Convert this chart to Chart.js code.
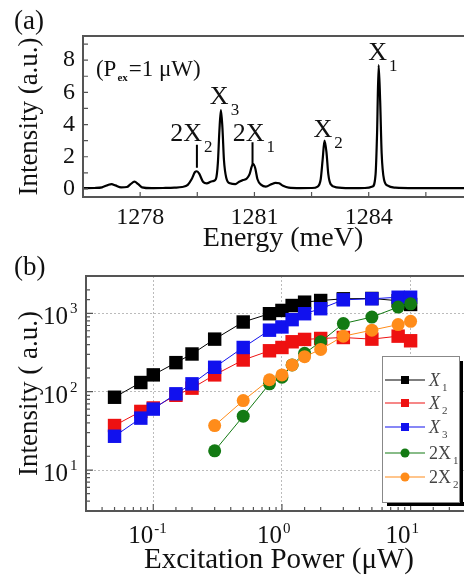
<!DOCTYPE html>
<html>
<head>
<meta charset="utf-8">
<script src="https://cdn.jsdelivr.net/npm/chart.js@4.4.1/dist/chart.umd.min.js"></script>
<style>
html, body { margin: 0; padding: 0; background: #fff; overflow: hidden; width: 464px; height: 578px; }
#wrapA { position: absolute; left: 0; top: 0; width: 490px; height: 255px; }
#wrapB { position: absolute; left: 0; top: 255px; width: 490px; height: 323px; }
</style>
</head>
<body>
<div id="wrapA"><canvas id="chartA"></canvas></div>
<div id="wrapB"><canvas id="chartB"></canvas></div>
<script>
// (a) PL spectrum at Pex = 1 uW
const energy = [1276.5, 1276.8, 1277.0, 1277.15, 1277.25, 1277.35, 1277.5, 1277.65, 1277.75, 1277.85, 1277.95, 1278.05,
  1278.3, 1278.6, 1278.9, 1279.1, 1279.25, 1279.35, 1279.44, 1279.49, 1279.55, 1279.65, 1279.75, 1279.85, 1279.93,
  1279.99, 1280.04, 1280.08, 1280.12, 1280.16, 1280.2, 1280.26, 1280.36, 1280.5, 1280.6, 1280.7, 1280.8, 1280.87,
  1280.93, 1280.97, 1281.02, 1281.08, 1281.18, 1281.3, 1281.45, 1281.55, 1281.65, 1281.75, 1281.9, 1282.2, 1282.5,
  1282.66, 1282.74, 1282.79, 1282.84, 1282.89, 1282.94, 1283.0, 1283.15, 1283.5, 1283.9, 1284.1, 1284.18, 1284.22,
  1284.26, 1284.3, 1284.34, 1284.4, 1284.5, 1284.7, 1285.2, 1285.8, 1286.5, 1287.0];
const intensity = [0.05, 0.06, 0.1, 0.24, 0.3, 0.22, 0.1, 0.12, 0.3, 0.45, 0.3, 0.1,
  0.05, 0.06, 0.08, 0.12, 0.25, 0.6, 1.05, 1.1, 0.95, 0.45, 0.35, 0.45, 0.5,
  0.62, 1.6, 3.6, 4.9, 3.8, 1.8, 0.7, 0.35, 0.3, 0.45, 0.55, 0.65, 0.9,
  1.4, 1.55, 1.3, 0.6, 0.25, 0.15, 0.3, 0.38, 0.35, 0.2, 0.08, 0.05, 0.06,
  0.15, 0.6, 1.8, 3.0, 2.3, 0.9, 0.3, 0.1, 0.05, 0.06, 0.15, 0.9, 3.5,
  7.7, 5.5, 2.2, 0.6, 0.2, 0.08, 0.05, 0.05, 0.05, 0.04];
const yTicksA = [0, 2, 4, 6, 8];

// peak labels (data coordinates: left of main text, baseline)
const peakLabels = [
  { main: 'X', sub: '1', x: 1283.99, y: 8.0 },
  { main: 'X', sub: '3', x: 1279.83, y: 5.3 },
  { main: '2X', sub: '2', x: 1278.79, y: 3.0 },
  { main: '2X', sub: '1', x: 1280.43, y: 3.0 },
  { main: 'X', sub: '2', x: 1282.55, y: 3.2 }
];
const markerLines = [
  { x: 1279.49, y0: 1.31, y1: 2.75 },
  { x: 1280.95, y0: 1.44, y1: 2.9 }
];

// (b) integrated intensity vs excitation power
const power = [0.05, 0.08, 0.1, 0.15, 0.2, 0.3, 0.5, 0.8, 1, 1.2, 1.5, 2, 3, 5, 8, 10];
const powerXX = [0.3, 0.5, 0.8, 1, 1.2, 1.5, 2, 3, 5, 8, 10];
const intX1 = [85, 131, 164, 235, 303, 469, 776, 990, 1090, 1260, 1390, 1460, 1535, 1550, 1450, 1300];
const intX2 = [37, 56, 62, 90, 111, 164, 254, 333, 367, 434, 465, 478, 492, 469, 512, 447];
const intX3 = [27, 46, 60, 94, 126, 205, 367, 610, 671, 832, 990, 1147, 1490, 1535, 1607, 1607];
const int2X1 = [17.6, 48.7, 126, 153, 220, 309, 434, 741, 898, 1202, 1325];
const int2X2 = [37, 77, 142, 164, 220, 280, 347, 512, 610, 720, 792];

const seriesNames = ['X', 'X', 'X', '2X', '2X'];
const seriesSubs = ['1', '2', '3', '1', '2'];
const seriesColors = ['#000000', '#ee1111', '#1111ee', '#137a13', '#ff8c1a'];
const seriesShapes = ['rect', 'rect', 'rect', 'circle', 'circle'];

const serif = '"Liberation Serif", "Times New Roman", serif';
const ink = '#111';

function withSub(ctx, x, y, main, sub, mainSize, subSize, dy, italic) {
  const st = italic ? 'italic ' : '';
  ctx.font = st + mainSize + 'px ' + serif;
  ctx.textAlign = 'left';
  ctx.textBaseline = 'alphabetic';
  ctx.fillText(main, x, y);
  const w = ctx.measureText(main).width;
  ctx.font = subSize + 'px ' + serif;
  ctx.fillText(sub, x + w + 2, y + dy);
}

const decorA = {
  id: 'decorA',
  afterDraw(chart) {
    const { ctx, chartArea: a, scales: { x, y } } = chart;
    ctx.save();
    ctx.strokeStyle = '#555';
    ctx.lineWidth = 2;
    ctx.strokeRect(a.left, a.top, a.right - a.left, a.bottom - a.top);
    ctx.lineWidth = 1.2;
    ctx.beginPath();
    x.ticks.forEach(t => {
      const px = x.getPixelForValue(t.value);
      ctx.moveTo(px, a.bottom); ctx.lineTo(px, a.bottom - 5);
    });
    for (let v = 0; v <= 9; v++) {
      const py = y.getPixelForValue(v);
      ctx.moveTo(a.left, py); ctx.lineTo(a.left + 5, py);
    }
    ctx.stroke();

    ctx.fillStyle = ink;
    peakLabels.forEach(l => {
      withSub(ctx, x.getPixelForValue(l.x), y.getPixelForValue(l.y), l.main, l.sub, 26, 17, 11, false);
    });
    ctx.strokeStyle = '#000';
    ctx.lineWidth = 2;
    ctx.beginPath();
    markerLines.forEach(m => {
      const px = x.getPixelForValue(m.x);
      ctx.moveTo(px, y.getPixelForValue(m.y0));
      ctx.lineTo(px, y.getPixelForValue(m.y1));
    });
    ctx.stroke();

    // (Pex = 1 uW)
    let px = x.getPixelForValue(1276.84), py = y.getPixelForValue(7.0);
    ctx.font = '23px ' + serif;
    ctx.fillText('(P', px, py);
    px += ctx.measureText('(P').width + 1;
    ctx.font = 'bold 11px ' + serif;
    ctx.fillText('ex', px, py + 5);
    px += ctx.measureText('ex').width + 1;
    ctx.font = '23px ' + serif;
    ctx.fillText('=1 \u03bcW)', px, py);

    ctx.font = '27px ' + serif;
    ctx.fillText('(a)', 14, 29);
    ctx.restore();
  }
};

new Chart(document.getElementById('chartA'), {
  type: 'line',
  data: {
    datasets: [{
      data: energy.map((e, i) => ({ x: e, y: intensity[i] })),
      borderColor: '#000',
      borderWidth: 2.2,
      pointRadius: 0,
      cubicInterpolationMode: 'monotone'
    }]
  },
  options: {
    responsive: true,
    maintainAspectRatio: false,
    animation: false,
    layout: { padding: { left: 0, top: 36, right: 7, bottom: 0 } },
    plugins: { legend: { display: false }, tooltip: { enabled: false } },
    scales: {
      x: {
        type: 'linear', min: 1276.5, max: 1287,
        afterFit(s) { s.height = 58; },
        grid: { display: false, drawTicks: false },
        border: { display: false },
        ticks: {
          stepSize: 1.5, includeBounds: false, autoSkip: false, maxRotation: 0, padding: 6,
          color: ink, font: { family: serif, size: 24 },
          callback: v => (Math.abs(v % 3) < 0.01 && v < 1286) ? String(v) : ''
        },
        title: { display: true, text: 'Energy (meV)', color: ink, font: { family: serif, size: 28 }, padding: 0 }
      },
      y: {
        type: 'linear', min: -0.5, max: 9.5,
        afterFit(s) { s.width = 83; },
        afterBuildTicks(s) { s.ticks = yTicksA.map(v => ({ value: v })); },
        grid: { display: false, drawTicks: false },
        border: { display: false },
        ticks: { padding: 8, color: ink, font: { family: serif, size: 24 } },
        title: { display: true, text: 'Intensity (a.u.)', color: ink, font: { family: serif, size: 27 }, padding: { top: 14, bottom: 0 } }
      }
    }
  },
  plugins: [decorA]
});

function isDecade(v) {
  const l = Math.log10(v);
  return Math.abs(l - Math.round(l)) < 1e-6;
}

function drawMarker(ctx, shape, cx, cy, r, color) {
  ctx.fillStyle = color;
  ctx.beginPath();
  if (shape === 'rect') ctx.rect(cx - r, cy - r, 2 * r, 2 * r);
  else ctx.arc(cx, cy, r, 0, Math.PI * 2);
  ctx.fill();
}

const decorB = {
  id: 'decorB',
  afterDraw(chart) {
    const { ctx, chartArea: a, scales: { x, y } } = chart;
    ctx.save();
    ctx.strokeStyle = '#555';
    ctx.lineWidth = 2;
    ctx.strokeRect(a.left, a.top, a.right - a.left, a.bottom - a.top);
    ctx.lineWidth = 1.2;
    ctx.beginPath();
    x.ticks.forEach(t => {
      const px = x.getPixelForValue(t.value);
      const len = isDecade(t.value) ? 7 : 4;
      ctx.moveTo(px, a.bottom); ctx.lineTo(px, a.bottom - len);
    });
    y.ticks.forEach(t => {
      const py = y.getPixelForValue(t.value);
      const len = isDecade(t.value) ? 7 : 4;
      ctx.moveTo(a.left, py); ctx.lineTo(a.left + len, py);
    });
    ctx.stroke();

    // decade tick labels with superscripts
    ctx.fillStyle = ink;
    x.ticks.filter(t => isDecade(t.value) && t.value < 25).forEach(t => {
      const px = x.getPixelForValue(t.value);
      const e = Math.round(Math.log10(t.value));
      ctx.font = '25px ' + serif; ctx.textAlign = 'right'; ctx.textBaseline = 'alphabetic';
      ctx.fillText('10', px, a.bottom + 32);
      ctx.font = '15px ' + serif; ctx.textAlign = 'left';
      ctx.fillText(e < 0 ? '-' + (-e) : String(e), px + 1, a.bottom + 22);
    });
    y.ticks.filter(t => isDecade(t.value)).forEach(t => {
      const py = y.getPixelForValue(t.value);
      const e = Math.round(Math.log10(t.value));
      ctx.font = '25px ' + serif; ctx.textAlign = 'right'; ctx.textBaseline = 'alphabetic';
      ctx.fillText('10', 68, py + 11);
      ctx.font = '15px ' + serif; ctx.textAlign = 'left';
      ctx.fillText(String(e), 70, py + 0);
    });

    // legend box with shadow
    const lx = 382, ly = 101, lw = 77, lh = 146;
    ctx.fillStyle = '#000';
    ctx.fillRect(lx + 5, ly + lh, lw, 4);
    ctx.fillRect(lx + lw, ly + 5, 4, lh - 1);
    ctx.fillStyle = '#fff';
    ctx.fillRect(lx, ly, lw, lh);
    ctx.strokeStyle = '#888';
    ctx.lineWidth = 1;
    ctx.strokeRect(lx + 0.5, ly + 0.5, lw, lh);
    const rows = [125, 148, 172, 198, 222];
    rows.forEach((ry, i) => {
      ctx.strokeStyle = seriesColors[i];
      ctx.lineWidth = 1.2;
      ctx.beginPath(); ctx.moveTo(385, ry); ctx.lineTo(425, ry); ctx.stroke();
      drawMarker(ctx, seriesShapes[i], 405, ry, seriesShapes[i] === 'rect' ? 4 : 4.5, seriesColors[i]);
      ctx.fillStyle = '#444';
      withSub(ctx, 429, ry + 6, seriesNames[i], seriesSubs[i], 18, 11, 5, seriesNames[i] === 'X');
    });

    ctx.fillStyle = ink;
    ctx.font = '27px ' + serif; ctx.textAlign = 'left'; ctx.textBaseline = 'alphabetic';
    ctx.fillText('(b)', 14, 20);
    ctx.restore();
  }
};

const seriesData = [
  power.map((p, i) => ({ x: p, y: intX1[i] })),
  power.map((p, i) => ({ x: p, y: intX2[i] })),
  power.map((p, i) => ({ x: p, y: intX3[i] })),
  powerXX.map((p, i) => ({ x: p, y: int2X1[i] })),
  powerXX.map((p, i) => ({ x: p, y: int2X2[i] }))
];

new Chart(document.getElementById('chartB'), {
  type: 'line',
  data: {
    datasets: seriesData.map((d, i) => ({
      label: seriesNames[i] + seriesSubs[i],
      data: d,
      order: 5 - i,
      borderColor: seriesColors[i],
      backgroundColor: seriesColors[i],
      borderWidth: 1,
      pointStyle: seriesShapes[i],
      pointRadius: seriesShapes[i] === 'rect' ? 9.5 : 6.5,
      pointBorderWidth: 0,
      tension: 0
    }))
  },
  options: {
    responsive: true,
    maintainAspectRatio: false,
    animation: false,
    layout: { padding: { left: 0, top: 21, right: 18, bottom: 0 } },
    plugins: { legend: { display: false }, tooltip: { enabled: false } },
    scales: {
      x: {
        type: 'logarithmic', min: 0.03, max: 30,
        afterFit(s) { s.height = 67; },
        grid: { color: c => (c.tick && isDecade(c.tick.value)) ? '#bbb' : 'rgba(0,0,0,0)', drawTicks: false, lineWidth: 1 },
        border: { display: false, dash: [2, 2] },
        ticks: { display: false },
        title: { display: true, text: 'Excitation Power (\u03bcW)', color: ink, font: { family: serif, size: 29 }, padding: 0 }
      },
      y: {
        type: 'logarithmic', min: 3, max: 3000,
        afterFit(s) { s.width = 86; },
        grid: { color: c => (c.tick && isDecade(c.tick.value)) ? '#bbb' : 'rgba(0,0,0,0)', drawTicks: false, lineWidth: 1 },
        border: { display: false, dash: [2, 2] },
        ticks: { display: false },
        title: { display: true, text: 'Intensity ( a.u.)', color: ink, font: { family: serif, size: 27 }, padding: { top: 14, bottom: 0 } }
      }
    }
  },
  plugins: [decorB]
});
</script>
</body>
</html>
